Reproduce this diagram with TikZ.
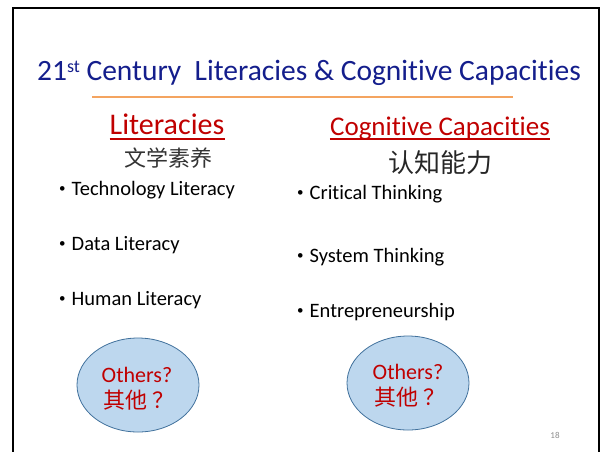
\documentclass[tikz,border=0pt]{standalone}
\usepackage{fontspec}
\setmainfont{Carlito}[Ligatures=NoCommon]
\newfontfamily\cjk{Noto Sans CJK SC}
\usetikzlibrary{shapes.geometric}
\definecolor{titleblue}{RGB}{20,30,140}
\definecolor{headred}{RGB}{192,0,0}
\definecolor{ruleorange}{RGB}{244,164,96}
\definecolor{bubblefill}{RGB}{189,215,238}
\definecolor{bubbleline}{RGB}{65,113,156}
\newcommand\dotitem{\raisebox{3pt}{\fontsize{13}{13}\selectfont\textbullet}\hspace{6pt}}
\begin{document}
\begin{tikzpicture}[x=1pt,y=-1pt,
  heading/.style={text=headred,inner sep=0pt,anchor=base},
  item/.style={font=\fontsize{20.5}{20.5}\selectfont,inner sep=0pt,anchor=base west},
  bubble/.style={ellipse,draw=bubbleline,fill=bubblefill,line width=0.8pt,
    minimum width=122pt,minimum height=94pt,inner sep=0pt},
  others/.style={text=headred,inner sep=0pt,anchor=base}]
\useasboundingbox (0,0) rectangle (607,451);

% slide frame
\draw[line width=2pt] (13,453) -- (13,8) -- (599,8) -- (599,453);

% title and the rule under it
\node[text=titleblue,font=\fontsize{29.5}{29.5}\selectfont,inner sep=0pt,anchor=base] (title)
  at (309,80) {21\raisebox{8pt}{\fontsize{18}{18}\selectfont st} Century\ \ Literacies \& Cognitive Capacities};
\coordinate (ruleL) at (92,97);
\coordinate (ruleR) at (513,97);
\draw[ruleorange,line width=2pt] (ruleL) -- (ruleR);

% left column: literacies
\node[heading,font=\fontsize{30}{30}\selectfont] (lit) at (167,134) {Literacies};
\draw[headred,line width=1.5pt] ([yshift=-5pt]lit.base west) -- ([yshift=-5pt]lit.base east);
\node[font=\cjk\fontsize{22}{22}\selectfont,text=black!80,inner sep=0pt] (litcn) at (168,158) {文学素养};
\node[item] (tech) at (59,195) {\dotitem Technology Literacy};
\node[item] (data) at (59,250) {\dotitem Data Literacy};
\node[item] (human) at (59,305) {\dotitem Human Literacy};

% right column: cognitive capacities
\node[heading,font=\fontsize{27}{27}\selectfont] (cog) at (440,135) {Cognitive Capacities};
\draw[headred,line width=1.5pt] ([yshift=-4pt]cog.base west) -- ([yshift=-4pt]cog.base east);
\node[font=\cjk\fontsize{26}{26}\selectfont,text=black!85,inner sep=0pt] (cogcn) at (440,163) {认知能力};
\node[item] (crit) at (297,199) {\dotitem Critical Thinking};
\node[item] (sys) at (297,262) {\dotitem System Thinking};
\node[item] (entr) at (297,317) {\dotitem Entrepreneurship};

% the two "others" bubbles
\node[bubble] (othA) at (138,385) {};
\node[others,font=\fontsize{22}{22}\selectfont] (othAen) at (137,382) {Others?};
\node[others,font=\cjk\fontsize{22}{22}\selectfont] (othAcn) at (139,408) {其他\hspace{5pt}？};
\node[bubble] (othB) at (408,383) {};
\node[others,font=\fontsize{22}{22}\selectfont] (othBen) at (408,379) {Others?};
\node[others,font=\cjk\fontsize{22}{22}\selectfont] (othBcn) at (410,405) {其他\hspace{5pt}？};

% page number
\node[text=black!45,font=\fontsize{9}{9}\selectfont,inner sep=0pt] (page) at (555,435) {18};
\end{tikzpicture}
\end{document}
